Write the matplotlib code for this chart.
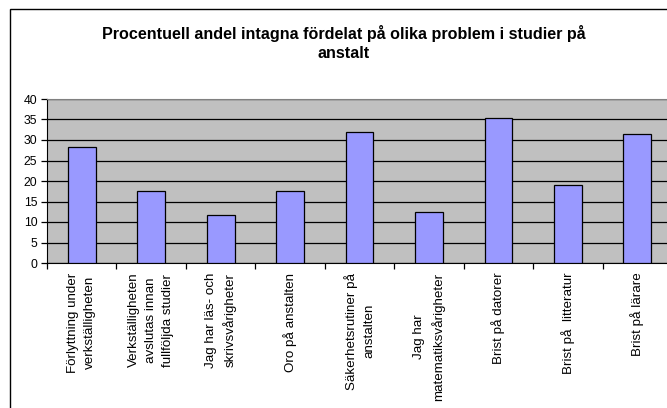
import matplotlib
matplotlib.use('Agg')
import matplotlib.pyplot as plt
import matplotlib.patches as mpatches
import numpy as np

# ── data ─────────────────────────────────────────────────────────────────────
categories = [
    "Förlyttning under\nverkställigheten",
    "Verkställigheten\navslutas innan\nfullföljda studier",
    "Jag har läs- och\nskrivsvårigheter",
    "Oro på anstalten",
    "Säkerhetsrutiner på\nanstalten",
    "Jag har\nmatematiksvårigheter",
    "Brist på datorer",
    "Brist på  litteratur",
    "Brist på lärare",
]
values = [28.2, 17.5, 11.7, 17.5, 31.9, 12.5, 35.4, 19.1, 31.5]
y_ticks = [0, 5, 10, 15, 20, 25, 30, 35, 40]

title = "Procentuell andel intagna fördelat på olika problem i studier på\nanstalt"

# ── style ────────────────────────────────────────────────────────────────────
BAR      = "#9999FF"
PLOT_BG  = "#C0C0C0"
FONT     = "Liberation Sans"

plt.rcParams['font.family'] = [FONT, 'DejaVu Sans']

W, H = 667, 408
fig = plt.figure(figsize=(W / 100, H / 100), dpi=100, facecolor='white')

# outer chart border (runs off the right / bottom edge)
fig.patches.append(mpatches.Rectangle((10 / W, -0.05), 1.2, (H - 9) / H + 0.05,
                                      transform=fig.transFigure, fill=False,
                                      edgecolor='black', linewidth=1.0))

# plot area: 47px .. 672px wide, 99px .. 263px tall
ax = fig.add_axes([47 / W, (H - 263) / H, 625 / W, 164 / H])
ax.set_facecolor(PLOT_BG)

x = np.arange(len(values))
ax.bar(x, values, width=0.4, color=BAR, edgecolor='black', linewidth=0.9, zorder=3)

ax.set_xlim(-0.5, len(values) - 0.5)
ax.set_ylim(0, 40)
ax.set_yticks(y_ticks)
ax.set_yticklabels([str(v) for v in y_ticks], fontsize=8.8)
ax.yaxis.grid(True, color='black', linewidth=0.9, zorder=0)
ax.set_axisbelow(True)

# ticks on category boundaries, labels at centres
ax.set_xticks(np.arange(len(values) + 1) - 0.5)
ax.set_xticklabels([])
ax.set_xticks(x, minor=True)
ax.set_xticklabels(categories, minor=True, rotation=90, fontsize=9.6,
                   ha='center', va='top', multialignment='center', linespacing=1.55)
ax.tick_params(axis='x', which='major', length=4, width=0.9, direction='out')
ax.tick_params(axis='x', which='minor', length=0, pad=7)
ax.tick_params(axis='y', length=4, width=0.9, pad=3)

for side in ('top', 'right'):
    ax.spines[side].set_color('#808080')
ax.spines['left'].set_color('black')
ax.spines['bottom'].set_color('black')

fig.text(344 / W, 1 - 43 / H, title, ha='center', va='center', fontsize=11.6,
         fontweight='bold', linespacing=1.35)

fig.savefig("out.png", dpi=100, facecolor='white')
